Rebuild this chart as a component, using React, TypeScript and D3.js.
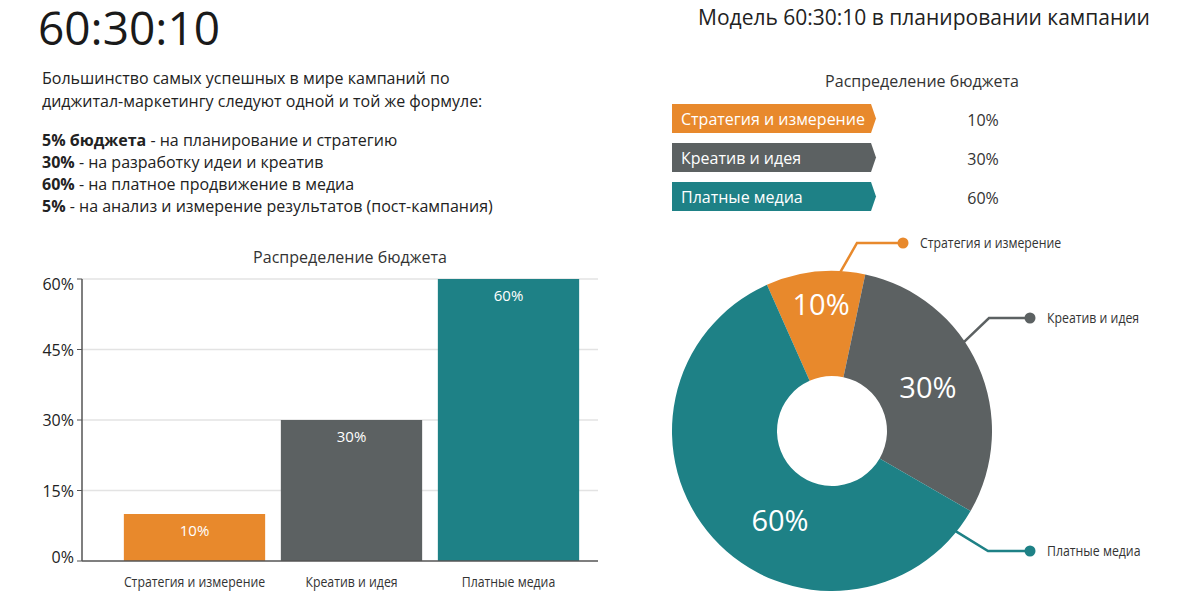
import React from "react";
import * as d3 from "d3";

const categories = ["Стратегия и измерение", "Креатив и идея", "Платные медиа"];
const shares = [10, 30, 60];
const yTicks = [0, 15, 30, 45, 60];
const sliceColors = ["#E8892C", "#5C6162", "#1E8186"];
const introLines = [
  "Большинство самых успешных в мире кампаний по",
  "диджитал-маркетингу следуют одной и той же формуле:",
];
const formulaBold = ["5% бюджета", "30%", "60%", "5%"];
const formulaRest = [
  " - на планирование и стратегию",
  " - на разработку идеи и креатив",
  " - на платное продвижение в медиа",
  " - на анализ и измерение результатов (пост-кампания)",
];
const mainTitle = "60:30:10";
const rightTitle = "Модель 60:30:10 в планировании кампании";
const chartTitle = "Распределение бюджета";

// layout (not data)
const callouts = [
  { angle: 3, elbowX: 857, elbowY: 243, dotX: 903 },
  { angle: 56, elbowX: 989, elbowY: 318, dotX: 1030 },
  { angle: 129, elbowX: 988, elbowY: 551, dotX: 1030 },
];
const donutLabelAngles = [-5, 66, 210];
const donutLabelRadii = [126, 105, 104];

const SANS = "'Open Sans', 'Noto Sans', sans-serif";
const NARROW_SCALE = 0.82;

export default function App() {
  // Bar chart
  const plotLeft = 82;
  const plotRight = 598;
  const x = d3.scaleBand<string>().domain(categories).range([116, 587]).paddingInner(0.1).paddingOuter(0.05);
  const y = d3.scaleLinear().domain([0, 60]).range([561, 279]);

  // Donut
  const cx = 832;
  const cy = 431;
  const outerR = 160;
  const innerR = 55;
  const startDeg = -24;
  const pie = d3
    .pie<number>()
    .sort(null)
    .value((d) => d)
    .startAngle((startDeg * Math.PI) / 180)
    .endAngle(((startDeg + 360) * Math.PI) / 180);
  const arcs = pie(shares);
  const arcGen = d3.arc<d3.PieArcDatum<number>>().innerRadius(innerR).outerRadius(outerR);

  const legendX0 = 672;
  const legendX1 = 871;
  const legendY = [104, 143, 182];
  const legendH = 29;

  return (
    <svg
      width={1200}
      height={602}
      style={{ position: "absolute", left: 0, top: 0, background: "#fff" }}
    >
      <rect width={1200} height={602} fill="#fff" />
      {/* Left header */}
      <text x={38} y={45} fontFamily={SANS} fontSize={46} fill="#1a1a1a">
        {mainTitle}
      </text>
      {introLines.map((l, i) => (
        <text key={l} x={42} y={84 + i * 23} fontFamily={SANS} fontSize={16} fill="#222">
          {l}
        </text>
      ))}
      {formulaBold.map((b, i) => (
        <text key={i} x={42} y={146 + i * 22} fontFamily={SANS} fontSize={16} fill="#222">
          <tspan fontWeight={700}>{b}</tspan>
          <tspan>{formulaRest[i]}</tspan>
        </text>
      ))}

      {/* Bar chart */}
      <text x={350} y={263} textAnchor="middle" fontFamily={SANS} fontSize={16} fill="#333">
        {chartTitle}
      </text>
      {yTicks.map((t) => (
        <g key={t}>
          {t > 0 && (
            <line x1={plotLeft} x2={plotRight} y1={y(t)} y2={y(t)} stroke="#e3e3e3" strokeWidth={1.5} />
          )}
          <line x1={plotLeft - 5} x2={plotLeft} y1={y(t)} y2={y(t)} stroke="#555" strokeWidth={1} />
          <text
            x={plotLeft - 8}
            y={y(t) + (t === 60 ? 11 : t === 0 ? 2 : 6)}
            textAnchor="end"
            fontFamily={SANS}
            fontSize={16}
            fill="#222"
          >
            {t}%
          </text>
        </g>
      ))}
      {categories.map((c, i) => (
        <g key={c}>
          <rect
            x={x(c)}
            y={y(shares[i])}
            width={x.bandwidth()}
            height={y(0) - y(shares[i])}
            fill={sliceColors[i]}
          />
          <text
            x={(x(c) as number) + x.bandwidth() / 2}
            y={y(shares[i]) + 22}
            textAnchor="middle"
            fontFamily={SANS}
            fontSize={15}
            fill="#fff"
          >
            {shares[i]}%
          </text>
          <text
            transform={`translate(${(x(c) as number) + x.bandwidth() / 2},587) scale(${NARROW_SCALE},1)`}
            textAnchor="middle"
            fontFamily={SANS}
            fontSize={15}
            fill="#333"
          >
            {c}
          </text>
        </g>
      ))}
      <line x1={plotLeft} x2={plotLeft} y1={y(60)} y2={y(0)} stroke="#555" strokeWidth={1.5} />
      <line x1={plotLeft} x2={plotRight} y1={y(0)} y2={y(0)} stroke="#555" strokeWidth={1.5} />

      {/* Right header */}
      <text x={924} y={25} textAnchor="middle" fontFamily={SANS} fontSize={21} fill="#222">
        {rightTitle}
      </text>
      <text x={922} y={87} textAnchor="middle" fontFamily={SANS} fontSize={16} fill="#333">
        {chartTitle}
      </text>
      {categories.map((c, i) => {
        const y0 = legendY[i];
        const pts = [
          [legendX0, y0],
          [legendX1, y0],
          [legendX1 + 5, y0 + legendH / 2],
          [legendX1, y0 + legendH],
          [legendX0, y0 + legendH],
        ]
          .map((p) => p.join(","))
          .join(" ");
        return (
          <g key={c}>
            <polygon points={pts} fill={sliceColors[i]} />
            <text x={681} y={y0 + 21} fontFamily={SANS} fontSize={16} fill="#fff">
              {c}
            </text>
            <text x={983} y={y0 + 22} textAnchor="middle" fontFamily={SANS} fontSize={16} fill="#333">
              {shares[i]}%
            </text>
          </g>
        );
      })}

      {/* Donut */}
      <g transform={`translate(${cx},${cy})`}>
        {arcs.map((a, i) => (
          <path key={i} d={arcGen(a) as string} fill={sliceColors[i]} />
        ))}
        {arcs.map((a, i) => {
          const ang = (donutLabelAngles[i] * Math.PI) / 180;
          const r = donutLabelRadii[i];
          const lx = r * Math.sin(ang);
          const ly = -r * Math.cos(ang);
          return (
            <text
              key={i}
              x={lx}
              y={ly + 10}
              textAnchor="middle"
              fontFamily={SANS}
              fontSize={29}
              fill="#fff"
            >
              {shares[i]}%
            </text>
          );
        })}
      </g>
      {callouts.map((co, i) => {
        const ang = (co.angle * Math.PI) / 180;
        const sx = cx + (outerR - 1) * Math.sin(ang);
        const sy = cy - (outerR - 1) * Math.cos(ang);
        return (
          <g key={i}>
            <polyline
              points={`${sx},${sy} ${co.elbowX},${co.elbowY} ${co.dotX},${co.elbowY}`}
              fill="none"
              stroke={sliceColors[i]}
              strokeWidth={2.5}
            />
            <circle cx={co.dotX} cy={co.elbowY} r={5.5} fill={sliceColors[i]} />
            <text
              transform={`translate(${co.dotX + 17},${co.elbowY + 5}) scale(${NARROW_SCALE},1)`}
              fontFamily={SANS}
              fontSize={15}
              fill="#333"
            >
              {categories[i]}
            </text>
          </g>
        );
      })}
    </svg>
  );
}
